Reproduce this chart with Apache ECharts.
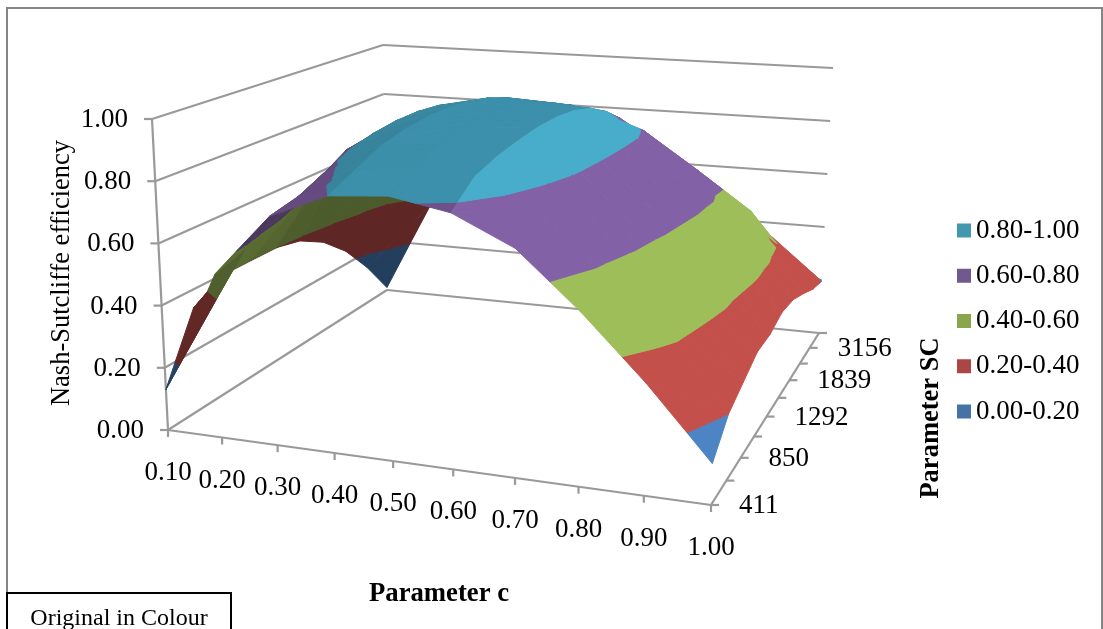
<!DOCTYPE html>
<html><head><meta charset="utf-8">
<style>html,body{margin:0;padding:0;background:#fff}#c{width:1103px;height:629px}</style>
<script src="https://cdn.jsdelivr.net/npm/echarts@6/dist/echarts.min.js"></script>
</head><body><div id="c"></div>
<script>
// ---- data: NSE per c value, from SC=411 (front) to the largest SC (back)
var cLabels  = ['0.10','0.20','0.30','0.40','0.50','0.60','0.70','0.80','0.90','1.00'];
var scLabels = ['411','','850','','1292','','1839','','3156',''];
var zLabels  = ['0.00','0.20','0.40','0.60','0.80','1.00'];
var bands    = ['0.00-0.20','0.20-0.40','0.40-0.60','0.60-0.80','0.80-1.00'];
var nseC010 = [.13,.34,.40,.40,.40,.38,.33,.25,.14,.01];
var nseC020 = [.52,.55,.58,.62,.68,.73,.74,.73,.70,.36];
var nseC030 = [.72,.74,.78,.82,.84,.85,.85,.84,.81,.64];
var nseC040 = [.80,.84,.88,.90,.91,.91,.90,.88,.85,.78];
var nseC050 = [.815,.87,.90,.92,.92,.92,.91,.875,.84,.80];
var nseC060 = [.78,.85,.875,.89,.90,.90,.89,.865,.82,.76];
var nseC070 = [.69,.75,.785,.805,.815,.82,.82,.795,.72,.64];
var nseC080 = [.52,.59,.62,.635,.645,.655,.66,.665,.57,.49];
var nseC090 = [.33,.45,.49,.52,.54,.55,.55,.53,.42,.35];
var nseC100 = [.12,.20,.235,.27,.27,.29,.28,.25,.215,.195];
var nse = [nseC010,nseC020,nseC030,nseC040,nseC050,nseC060,nseC070,nseC080,nseC090,nseC100];

var surfaceColors = ['#4c84c4','#c4504c','#9ebe5a','#8361a6','#48accb'];
var legendColors  = ['#4572a7','#aa4643','#89a54e','#71588f','#4198af'];

// ---- oblique view: unit box corners on the picture (floor, then top)
var floorH = quad([168,430],[711,505],[819,333],[387,290]);
var topH   = quad([152,119],[722,160],[833,68],[383,45]);
function quad(p0,p1,p2,p3){
  var dx1=p1[0]-p2[0],dx2=p3[0]-p2[0],sx=p0[0]-p1[0]+p2[0]-p3[0];
  var dy1=p1[1]-p2[1],dy2=p3[1]-p2[1],sy=p0[1]-p1[1]+p2[1]-p3[1];
  var den=dx1*dy2-dx2*dy1, g=(sx*dy2-dx2*sy)/den, h=(dx1*sy-sx*dy1)/den;
  return [p1[0]-p0[0]+g*p1[0],p3[0]-p0[0]+h*p3[0],p0[0],p1[1]-p0[1]+g*p1[1],p3[1]-p0[1]+h*p3[1],p0[1],g,h];
}
function ap(H,u,v){var w=H[6]*u+H[7]*v+1;return [(H[0]*u+H[1]*v+H[2])/w,(H[3]*u+H[4]*v+H[5])/w];}
function project(i,j,z){ // i: c index, j: SC index, z: NSE
  var u=i/(cLabels.length-1), v=j/(scLabels.length-1);
  var f=ap(floorH,u,v), t=ap(topH,u,v);
  return [f[0]+(t[0]-f[0])*z, f[1]+(t[1]-f[1])*z];
}

// ---- clip a triangle to a band of z
function clip(poly,lim,keepBelow){
  var out=[];
  for(var k=0;k<poly.length;k++){
    var a=poly[k],b=poly[(k+1)%poly.length];
    var ia=keepBelow?a[2]<=lim:a[2]>=lim, ib=keepBelow?b[2]<=lim:b[2]>=lim;
    if(ia)out.push(a);
    if(ia!==ib){var t=(lim-a[2])/(b[2]-a[2]);out.push([a[0]+(b[0]-a[0])*t,a[1]+(b[1]-a[1])*t,lim]);}
  }
  return out;
}
function shadeColor(hex,f){
  var n=parseInt(hex.slice(1),16);
  function c(x){return Math.max(0,Math.min(255,Math.round(x*f)));}
  return 'rgb('+c(n>>16&255)+','+c(n>>8&255)+','+c(n&255)+')';
}

// ---- cells, far to near
var cells=[];
for(var j0=scLabels.length-2;j0>=0;j0--)for(var i0=0;i0<cLabels.length-1;i0++)cells.push([i0,j0]);

function renderCell(params,api){
  var i=api.value(0),j=api.value(1),children=[];
  var q=[[i,j,nse[i][j]],[i+1,j,nse[i+1][j]],[i+1,j+1,nse[i+1][j+1]],[i,j+1,nse[i][j+1]]];
  var slopeC=((q[1][2]+q[2][2])-(q[0][2]+q[3][2]))/2;
  var tris=[[q[0],q[1],q[2]],[q[0],q[2],q[3]]];
  tris.forEach(function(tr){
    var P=tr.map(function(p){return project(p[0],p[1],p[2]);});
    var area=(P[1][0]-P[0][0])*(P[2][1]-P[0][1])-(P[2][0]-P[0][0])*(P[1][1]-P[0][1]);
    var under=slopeC>0.15||(area>0&&slopeC>-0.05); // flipped on screen: we look at the underside
    var f;
    if(under){f=0.62+Math.max(-0.14,Math.min(0.1,-(slopeC-0.1)*0.6));}
    else{f=1-0.16*Math.max(0,Math.min(1,(slopeC+0.06)/0.03))-0.07*Math.max(0,Math.min(1,(slopeC-0.02)/0.06));}
    for(var b=0;b<bands.length;b++){
      var pl=clip(clip(tr,b*0.2,false),(b+1)*0.2,true);
      if(pl.length<3)continue;
      var pts=pl.map(function(p){return api.coord(project(p[0],p[1],p[2]));});
      var col=shadeColor(surfaceColors[b],f);
      children.push({type:'polygon',shape:{points:pts},z2:params.dataIndex+1,
        style:{fill:col,stroke:col,lineWidth:1}});
    }
  });
  return {type:'group',children:children};
}

// ---- walls, axes, ticks, tick labels
var axisCol='#999999',lastI=cLabels.length-1,lastJ=scLabels.length-1;
var frame=[];
function seg(a,b,w){frame.push([a,b,w||2.2]);}
zLabels.forEach(function(l,k){
  var z=k*0.2;
  seg(project(0,0,z),project(0,lastJ,z));
  seg(project(0,lastJ,z),project(lastI,lastJ,z));
  var s=project(0,0,z);seg(s,[s[0]-8,s[1]]);
});
seg(project(0,0,0),project(0,0,1));
seg(project(0,0,0),project(lastI,0,0));
seg(project(lastI,0,0),project(lastI,lastJ,0));
cLabels.forEach(function(l,i){var s=project(i,0,0);seg(s,[s[0],s[1]+7]);});
scLabels.forEach(function(l,j){var s=project(lastI,j,0);seg(s,[s[0]+8,s[1]]);});

var textItems=[];
cLabels.forEach(function(l,i){var s=project(i,0,0);textItems.push([l,s[0],s[1]+43,'center']);});
zLabels.forEach(function(l,k){var s=project(0,0,k*0.2);textItems.push([l,s[0]-24,s[1]+1,'right']);});
scLabels.forEach(function(l,j){if(l){var s=project(lastI,j,0);textItems.push([l,s[0]+28,s[1]+1,'left']);}});

var serif='"Liberation Serif","Times New Roman",serif';
var chart=echarts.init(document.getElementById('c'),null,{renderer:'canvas'});
var legendSeries=bands.map(function(b,k){
  return {type:'scatter',name:b,data:[],itemStyle:{color:legendColors[k],opacity:1},silent:true};
});
chart.setOption({
  animation:false,
  backgroundColor:'#fff',
  grid:{left:0,right:0,top:0,bottom:0,containLabel:false},
  xAxis:{type:'value',min:0,max:1103,show:false},
  yAxis:{type:'value',min:0,max:629,inverse:true,show:false},
  legend:{orient:'vertical',left:957,top:216.5,padding:0,itemWidth:14,itemHeight:14,itemGap:17.25,icon:'rect',selectedMode:false,
    data:bands.slice().reverse(),itemStyle:{borderWidth:0,opacity:1},
    textStyle:{fontFamily:serif,fontSize:27,lineHeight:28,color:'#000'}},
  graphic:{elements:[
    {type:'rect',shape:{x:7,y:8,width:1095,height:640},style:{fill:'none',stroke:'#868686',lineWidth:2},z:-1},
    {type:'rect',shape:{x:7,y:593,width:224,height:50},style:{fill:'#fff',stroke:'#000',lineWidth:2},z:20},
    {type:'text',x:119,y:619,z:21,style:{text:'Original in Colour',fontFamily:serif,fontSize:24,fill:'#000',textAlign:'center',textVerticalAlign:'middle'}},
    {type:'text',x:62,y:273,rotation:Math.PI/2,z:21,style:{text:'Nash-Sutcliffe efficiency',fontFamily:serif,fontSize:26.5,fill:'#000',textAlign:'center',textVerticalAlign:'middle'}},
    {type:'text',x:931,y:418,rotation:Math.PI/2,z:21,style:{text:'Parameter SC',fontFamily:serif,fontWeight:'bold',fontSize:26.5,fill:'#000',textAlign:'center',textVerticalAlign:'middle'}},
    {type:'text',x:439,y:594,z:21,style:{text:'Parameter c',fontFamily:serif,fontWeight:'bold',fontSize:26.7,fill:'#000',textAlign:'center',textVerticalAlign:'middle'}}
  ]},
  series:[
    {type:'custom',name:'axes',silent:true,clip:false,coordinateSystem:'cartesian2d',z:1,data:frame.map(function(d,k){return [k];}),
      encode:{x:0},
      renderItem:function(p,api){var d=frame[api.value(0)];
        var a=api.coord(d[0]),b=api.coord(d[1]);
        return {type:'line',shape:{x1:a[0],y1:a[1],x2:b[0],y2:b[1]},style:{stroke:axisCol,lineWidth:d[2]}};}},
    {type:'custom',name:'labels',silent:true,clip:false,coordinateSystem:'cartesian2d',z:3,data:textItems.map(function(d,k){return [k];}),
      encode:{x:0},
      renderItem:function(p,api){var d=textItems[api.value(0)];var a=api.coord([d[1],d[2]]);
        return {type:'text',x:a[0],y:a[1],style:{text:d[0],fontFamily:serif,fontSize:27,fill:'#000',textAlign:d[3],textVerticalAlign:'middle'}};}},
    {type:'custom',name:'NSE surface',silent:true,clip:false,coordinateSystem:'cartesian2d',z:2,progressive:0,data:cells,
      encode:{x:0,y:1},renderItem:renderCell}
  ].concat(legendSeries)
});
</script></body></html>
